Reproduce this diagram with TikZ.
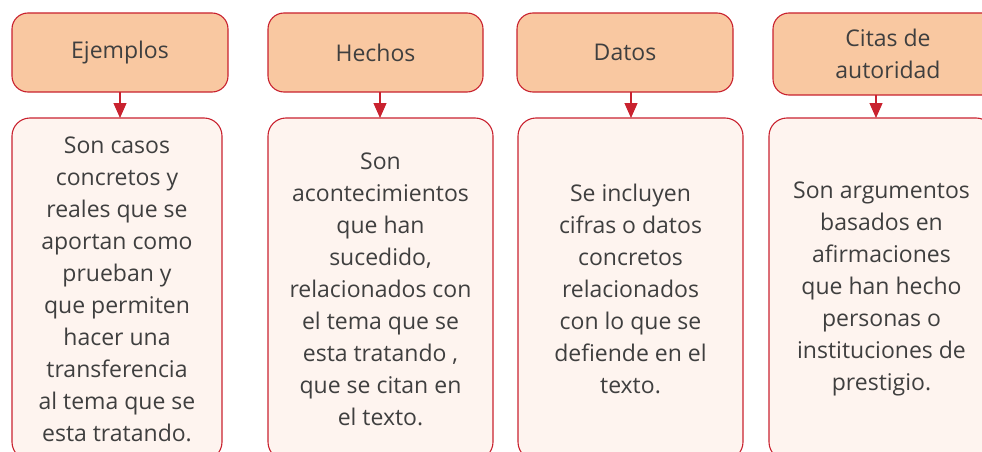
\documentclass[tikz,border=0pt]{standalone}
\usepackage{fontspec}
\setmainfont{Open Sans}
\usetikzlibrary{arrows.meta}
\definecolor{bordred}{HTML}{C9222F}
\definecolor{topfill}{HTML}{F9C8A1}
\definecolor{botfill}{HTML}{FEF4EF}
\definecolor{txt}{HTML}{3F3F3F}
\tikzset{
  topbox/.style={draw=bordred, line width=1.1pt, fill=topfill, rounded corners=16pt,
    inner sep=0pt, outer sep=0pt, anchor=north west, text=txt, align=center,
    font=\fontsize{23}{32}\selectfont},
  botbox/.style={draw=bordred, line width=1.1pt, fill=botfill, rounded corners=18pt,
    inner sep=0pt, outer sep=0pt, anchor=north west, text=txt, align=center,
    font=\fontsize{23}{32}\selectfont},
  link/.style={draw=bordred, line width=1.2pt, -{Triangle[width=13pt,length=15pt]}}
}
\begin{document}
\begin{tikzpicture}[x=1pt,y=-1pt]
\useasboundingbox (0,0) rectangle (982,452);
\clip (0,0) rectangle (982,452);
% top boxes
\node[topbox, minimum width=216pt, minimum height=79pt] (t1) at (12,13) {Ejemplos};
\node[topbox, minimum width=215pt, minimum height=79pt] (t2) at (268,13) {Hechos};
\node[topbox, minimum width=216pt, minimum height=79pt] (t3) at (517,13) {Datos};
\node[topbox, minimum width=230pt, minimum height=82pt] (t4) at (773,13) {Citas de\\autoridad};
% bottom boxes
\node[botbox, minimum width=210pt, minimum height=342pt] (b1) at (12,118)
  {Son casos\\concretos y\\reales que se\\aportan como\\prueban y\\que permiten\\hacer una\\transferencia\\al tema que se\\esta tratando.};
\node[botbox, minimum width=225pt, minimum height=342pt] (b2) at (268,118)
  {Son\\acontecimientos\\que han\\sucedido,\\relacionados con\\el tema que se\\esta tratando ,\\que se citan en\\el texto.};
\node[botbox, minimum width=225pt, minimum height=342pt] (b3) at (518,118)
  {Se incluyen\\cifras o datos\\concretos\\relacionados\\con lo que se\\defiende en el\\texto.};
\node[botbox, minimum width=225pt, minimum height=342pt] (b4) at (769,118)
  {Son argumentos\\basados en\\afirmaciones\\que han hecho\\personas o\\instituciones de\\prestigio.};
% arrows
\coordinate (a1) at (120,0);
\coordinate (a2) at (380,0);
\coordinate (a3) at (631,0);
\coordinate (a4) at (876,0);
\draw[link] (a1 |- t1.south) -- (a1 |- b1.north);
\draw[link] (a2 |- t2.south) -- (a2 |- b2.north);
\draw[link] (a3 |- t3.south) -- (a3 |- b3.north);
\draw[link] (a4 |- t4.south) -- (a4 |- b4.north);
\end{tikzpicture}
\end{document}
